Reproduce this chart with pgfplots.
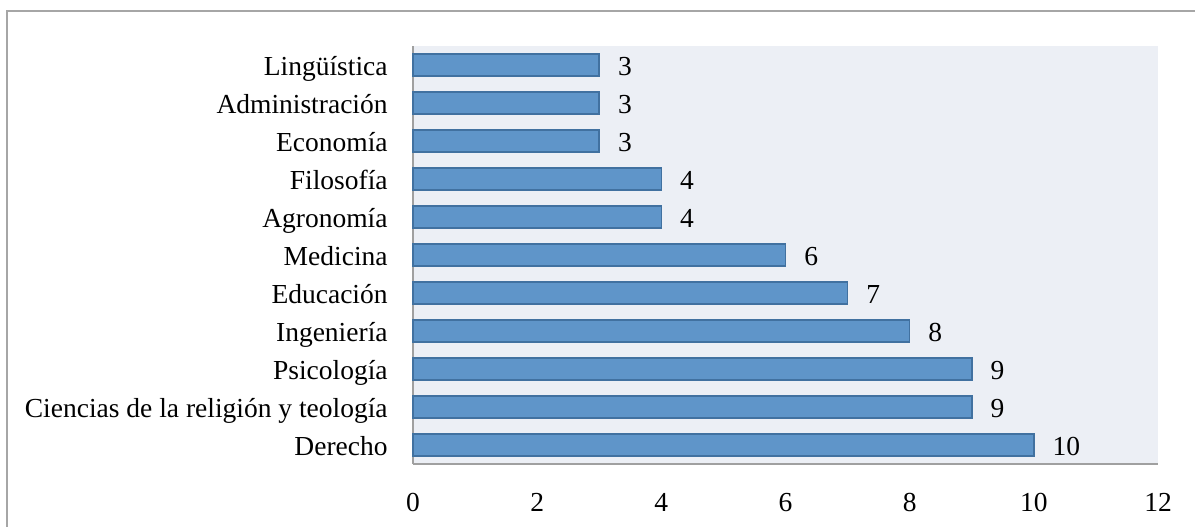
\documentclass[border=0pt]{standalone}
\usepackage{pgfplots}
\pgfplotsset{compat=1.18}
\usepackage{fontspec}
\setmainfont{Liberation Serif}
\definecolor{barfill}{RGB}{95,149,201}
\definecolor{barline}{RGB}{65,113,160}
\definecolor{bgcol}{RGB}{236,239,245}
\definecolor{axcol}{RGB}{160,160,160}
\definecolor{framecol}{RGB}{166,166,166}
\begin{document}
\begin{tikzpicture}
\useasboundingbox (0,0) rectangle (597.5pt,263pt);
\draw[framecol, line width=1pt] (3.25pt,-2pt) -- (3.25pt,257.25pt) -- (600pt,257.25pt);
\begin{axis}[
  at={(206.5pt,31pt)}, anchor=south west,
  scale only axis, width=372.5pt, height=209pt,
  xbar, bar width=11pt, bar shift=0pt,
  xmin=0, xmax=12, ymin=-0.5, ymax=10.5,
  axis x line*=bottom, axis y line*=left,
  axis line style={axcol, line width=0.9pt, -},
  axis background/.style={fill=bgcol},
  xtick={0,2,...,12},
  ytick={0,...,10},
  yticklabels={Derecho, Ciencias de la religión y teología, Psicología, Ingeniería, Educación, Medicina, Agronomía\ , Filosofía, Economía, Administración, Lingüística},
  major tick length=0pt,
  font=\fontsize{13.75pt}{16pt}\selectfont,
  /pgf/number format/assume math mode=true,
  yticklabel style={anchor=base east, inner sep=0pt, xshift=-12.5pt, yshift=-5.2pt},
  xticklabel style={anchor=north, inner sep=0pt, yshift=-14.3pt},
  nodes near coords,
  nodes near coords style={anchor=base west, inner sep=0pt, xshift=9pt, yshift=-5.2pt, text=black},
  every node near coord/.append style={/pgf/number format/assume math mode=true},
  clip=false,
]
\addplot[fill=barfill, draw=barline, line width=0.8pt] coordinates {
  (10,0) (9,1) (9,2) (8,3) (7,4) (6,5) (4,6) (4,7) (3,8) (3,9) (3,10)
};
\end{axis}
\end{tikzpicture}
\end{document}
